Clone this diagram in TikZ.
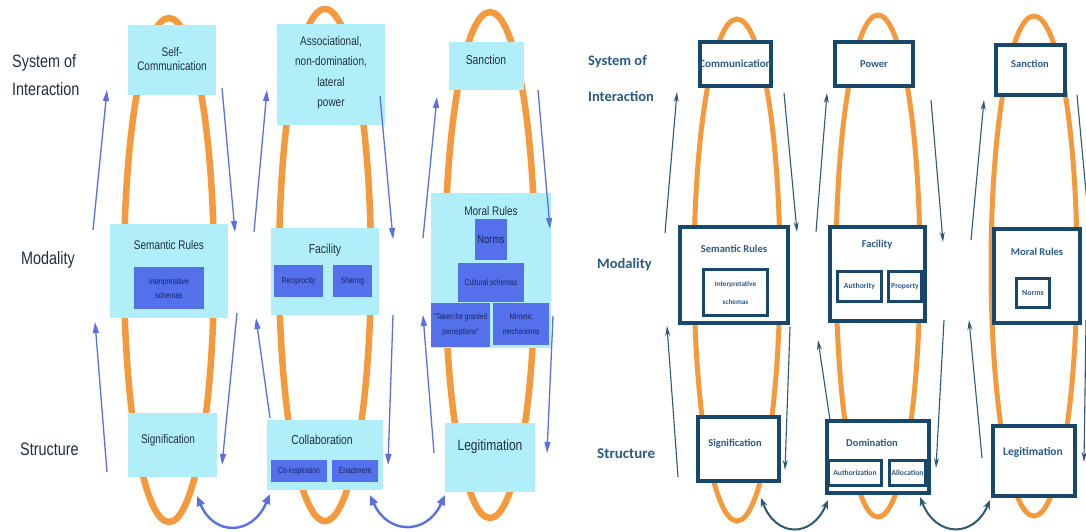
\documentclass[tikz,border=0pt]{standalone}
\usepackage{fontspec}
\setmainfont{Liberation Sans}
\newfontfamily\lf{Liberation Sans}[FakeStretch=0.8]
\newfontfamily\rf{Carlito}
\usetikzlibrary{arrows.meta}
\definecolor{orangec}{HTML}{F49A3C}
\definecolor{cyanf}{HTML}{B0EFFA}
\definecolor{innerb}{HTML}{5470EA}
\definecolor{innert}{HTML}{1A2560}
\definecolor{ltext}{HTML}{22303A}
\definecolor{bluea}{HTML}{5B6FE6}
\definecolor{navyc}{HTML}{17476C}
\definecolor{rtext}{HTML}{2B5A88}
\definecolor{tealc}{HTML}{2C5A75}
\begin{document}
\begin{tikzpicture}[x=1pt,y=-1pt,
  orngL/.style={draw=orangec, line width=6.5},
  orngR/.style={draw=orangec, line width=5},
  lbox/.style={fill=cyanf, inner sep=0pt, outer sep=0pt},
  ibox/.style={fill=innerb, inner sep=0pt, align=center, text=innert, font=\lf\fontsize{8.5}{14}\selectfont},
  ltitle/.style={text=ltext, font=\lf\fontsize{12.5}{14}\selectfont, align=center, inner sep=0pt},
  llabel/.style={text=ltext, font=\lf\fontsize{18}{28}\selectfont, align=left, inner sep=0pt, anchor=west},
  larr/.style={draw=bluea, line width=1.3, -{Triangle[length=11pt,width=6pt]}},
  ldarr/.style={draw=bluea, line width=2.4, {Triangle[length=10pt,width=8pt]}-{Triangle[length=10pt,width=8pt]}},
  rbox/.style={draw=navyc, line width=4.5, fill=white, inner sep=0pt},
  ribox/.style={draw=navyc, line width=3, fill=white, inner sep=0pt, align=center, text=rtext, font=\rf\bfseries\fontsize{7.2}{18}\selectfont},
  rtitle/.style={text=rtext, font=\rf\bfseries\fontsize{10.5}{13}\selectfont, align=center, inner sep=0pt},
  rlabel/.style={text=rtext, font=\rf\bfseries\fontsize{14.5}{36}\selectfont, align=left, inner sep=0pt, anchor=west},
  rarr/.style={draw=tealc, line width=1.1, -{Stealth[length=10pt,width=5pt]}},
  rdarr/.style={draw=tealc, line width=2, {Stealth[length=9pt,width=7pt]}-{Stealth[length=9pt,width=7pt]}}
]
\useasboundingbox (0,0) rectangle (1086,532);
\clip (0,0) rectangle (1086,532);
\fill[white] (0,0) rectangle (1086,532);

% ===================== LEFT PANEL =====================
\node[llabel] (l1) at (12,75) {System of\\Interaction};
\node[llabel] (l2) at (21,260) {Modality};
\node[llabel] (l3) at (20,449) {Structure};

\draw[orngL] (169,270) ellipse [x radius=45, y radius=252];
\draw[orngL] (325,265) ellipse [x radius=46, y radius=256];
\draw[orngL] (490,265) ellipse [x radius=45, y radius=253];

% column 1
\node[lbox, minimum width=88, minimum height=70] (sc) at (172,60) {};
\node[ltitle] (sct) at (172,59) {Self-\\Communication};
\node[lbox, minimum width=118, minimum height=94] (sr) at (169,271) {};
\node[ltitle] (srt) at (169,245) {Semantic Rules};
\node[ibox, minimum width=70, minimum height=42] (isch) at (169,288) {Interpretative\\schemas};
\node[lbox, minimum width=89, minimum height=64] (sig) at (172.5,445) {};
\node[ltitle] (sigt) at (168,440) {Signification};

% column 2
\node[lbox, minimum width=108, minimum height=101] (as) at (331,74.5) {};
\node[ltitle, font=\lf\fontsize{12.5}{20.5}\selectfont] (ast) at (331,73) {Associational,\\non-domination,\\lateral\\power};
\node[lbox, minimum width=108, minimum height=87] (fac) at (325,271.5) {};
\node[ltitle, font=\lf\fontsize{13}{14}\selectfont] (fact) at (325,250) {Facility};
\node[ibox, minimum width=49, minimum height=32] (rec) at (298.5,281) {Reciprocity};
\node[ibox, minimum width=39, minimum height=32] (sha) at (352.5,281) {Sharing};
\node[lbox, minimum width=116, minimum height=70] (col) at (325,455) {};
\node[ltitle, font=\lf\fontsize{13}{14}\selectfont] (colt) at (322,440) {Collaboration};
\node[ibox, minimum width=56, minimum height=22] (coi) at (299,471) {Co-inspiration};
\node[ibox, minimum width=46, minimum height=22] (ena) at (355,471) {Enactment};

% column 3
\node[lbox, minimum width=75, minimum height=48] (san) at (486.5,66) {};
\node[ltitle, font=\lf\fontsize{13}{14}\selectfont] (sant) at (486,60) {Sanction};
\node[lbox, minimum width=120, minimum height=155] (mr) at (491,270.5) {};
\node[ltitle] (mrt) at (491,211) {Moral Rules};
\node[ibox, minimum width=32, minimum height=41, font=\lf\fontsize{11.5}{13}\selectfont] (nor) at (491,239.5) {Norms};
\node[ibox, minimum width=66, minimum height=39] (cul) at (491,282.5) {Cultural schemas};
\node[ibox, minimum width=59, minimum height=44, font=\lf\fontsize{8.2}{15}\selectfont] (tak) at (460.5,325) {"Taken for granted\\perceptions"};
\node[ibox, minimum width=56, minimum height=42, font=\lf\fontsize{8.2}{15}\selectfont] (mim) at (521,324) {Mimetic\\mechanisms};
\node[lbox, minimum width=90, minimum height=69] (leg) at (490,457.5) {};
\node[ltitle, font=\lf\fontsize{15}{16}\selectfont] (legt) at (490,447) {Legitimation};

% left arrows
\coordinate (a1) at (93,230);  \coordinate (a2) at (107,90);
\coordinate (a3) at (222,88);  \coordinate (a4) at (235,232);
\coordinate (a5) at (107,472); \coordinate (a6) at (95,322);
\coordinate (a7) at (237,313); \coordinate (a8) at (222,465);
\coordinate (b1) at (254,232); \coordinate (b2) at (267,90);
\coordinate (b3) at (380,96);  \coordinate (b4) at (393,239);
\coordinate (b5) at (270,418); \coordinate (b6) at (256,318);
\coordinate (b7) at (393,315); \coordinate (b8) at (388,465);
\coordinate (c1) at (423,238); \coordinate (c2) at (437,97);
\coordinate (c3) at (538,90);  \coordinate (c4) at (550,229);
\coordinate (c5) at (434,453); \coordinate (c6) at (423,315);
\coordinate (c7) at (553,316); \coordinate (c8) at (547,453);
\foreach \s/\e in {a1/a2,a3/a4,a5/a6,a7/a8,b1/b2,b3/b4,b5/b6,b7/b8,c1/c2,c3/c4,c5/c6,c7/c8}
  \draw[larr] (\s) -- (\e);
\coordinate (d1) at (197,496); \coordinate (d2) at (270,494);
\coordinate (d3) at (370,495); \coordinate (d4) at (445,495);
\draw[ldarr] (d1) .. controls (214,536) and (252,536) .. (d2);
\draw[ldarr] (d3) .. controls (388,535) and (427,535) .. (d4);

% ===================== RIGHT PANEL =====================
\node[rlabel] (r1) at (588,79) {System of\\Interaction};
\node[rlabel] (r2) at (597,265) {Modality};
\node[rlabel, font=\rf\bfseries\fontsize{15}{16}\selectfont] (r3) at (597,454) {Structure};

\draw[orngR] (737,270) ellipse [x radius=43, y radius=251];
\draw[orngR] (878,266) ellipse [x radius=42, y radius=251];
\draw[orngR] (1034,266) ellipse [x radius=43, y radius=250];

% column A
\node[rbox, minimum width=71, minimum height=44] (com) at (735.5,64) {};
\node[rtitle, font=\rf\bfseries\fontsize{11}{13}\selectfont] (comt) at (735.5,64) {Communication};
\node[rbox, minimum width=108, minimum height=96] (rsr) at (734,275) {};
\node[rtitle] (rsrt) at (734,249) {Semantic Rules};
\node[ribox, minimum width=64, minimum height=46] (risch) at (735.5,292.5) {Interpretative\\schemas};
\node[rbox, minimum width=81, minimum height=64] (rsig) at (738.5,449) {};
\node[rtitle] (rsigt) at (735,444) {Signification};

% column B
\node[rbox, minimum width=78, minimum height=44] (pow) at (874,64) {};
\node[rtitle] (powt) at (874,64) {Power};
\node[rbox, minimum width=95, minimum height=94] (rfac) at (877.5,274) {};
\node[rtitle] (rfact) at (877,245) {Facility};
\node[ribox, minimum width=44, minimum height=30, font=\rf\bfseries\fontsize{7.8}{9}\selectfont] (aut) at (859.5,286.5) {Authority};
\node[ribox, minimum width=33, minimum height=30, font=\rf\bfseries\fontsize{7.6}{9}\selectfont, line width=3.6] (pro) at (905,286.5) {Property};
\node[rbox, minimum width=102, minimum height=72] (dom) at (878,457) {};
\node[rtitle] (domt) at (872,443) {Domination};
\node[ribox, minimum width=53, minimum height=25, font=\rf\bfseries\fontsize{7.6}{9}\selectfont] (auz) at (855,473) {Authorization};
\node[ribox, minimum width=36, minimum height=25, font=\rf\bfseries\fontsize{7.6}{9}\selectfont, line width=3.6] (all) at (907.5,473) {Allocation};

% column C
\node[rbox, minimum width=69, minimum height=50] (rsan) at (1030.5,70) {};
\node[rtitle] (rsant) at (1030,64) {Sanction};
\node[rbox, minimum width=86, minimum height=94] (rmr) at (1037,276) {};
\node[rtitle] (rmrt) at (1037,252) {Moral Rules};
\node[ribox, minimum width=33, minimum height=29, font=\rf\bfseries\fontsize{7.8}{9}\selectfont, line width=3.6] (rnor) at (1033,293) {Norms};
\node[rbox, minimum width=82, minimum height=70] (rleg) at (1034,461) {};
\node[rtitle, font=\rf\bfseries\fontsize{11.5}{13}\selectfont] (rlegt) at (1033,452) {Legitimation};

% right arrows
\coordinate (p1) at (665,233);  \coordinate (p2) at (677,92);
\coordinate (p3) at (784,93);   \coordinate (p4) at (797,232);
\coordinate (p5) at (678,477);  \coordinate (p6) at (667,326);
\coordinate (p7) at (790,327);  \coordinate (p8) at (785,470);
\coordinate (q1) at (816,232);  \coordinate (q2) at (827,93);
\coordinate (q3) at (931,100);  \coordinate (q4) at (943,242);
\coordinate (q5) at (830,420);  \coordinate (q6) at (818,340);
\coordinate (q7) at (944,320);  \coordinate (q8) at (936,468);
\coordinate (s1) at (971,240);  \coordinate (s2) at (984,100);
\coordinate (s3) at (1077,95);  \coordinate (s4) at (1090,235);
\coordinate (s5) at (982,458);  \coordinate (s6) at (969,320);
\coordinate (s7) at (1086,320); \coordinate (s8) at (1084,462);
\foreach \s/\e in {p1/p2,p3/p4,p5/p6,p7/p8,q1/q2,q3/q4,q5/q6,q7/q8,s1/s2,s3/s4,s5/s6,s7/s8}
  \draw[rarr] (\s) -- (\e);
\coordinate (t1) at (761,498); \coordinate (t2) at (828,500);
\coordinate (t3) at (920,497); \coordinate (t4) at (990,500);
\draw[rdarr] (t1) .. controls (776,538) and (812,538) .. (t2);
\draw[rdarr] (t3) .. controls (936,538) and (974,538) .. (t4);
\end{tikzpicture}
\end{document}
